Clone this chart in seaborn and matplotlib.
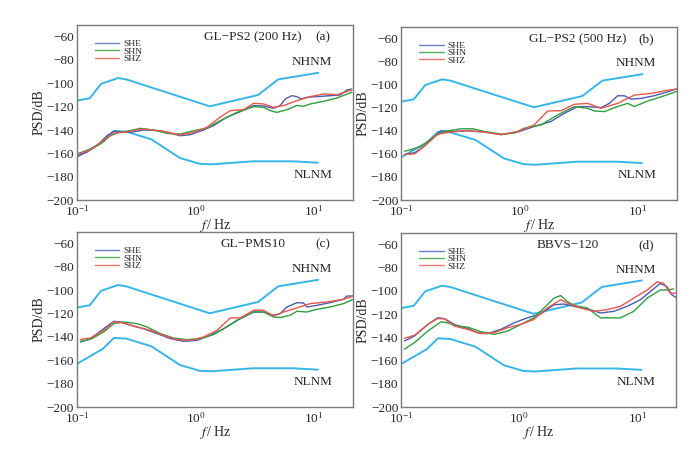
"""
plot.py

PSD curves of the three channels (SHE, SHN, SHZ) for four sensors,
drawn against the Peterson noise models (NHNM / NLNM).
"""

import numpy as np
import pandas as pd
import matplotlib
matplotlib.use("Agg")
import matplotlib.pyplot as plt
import seaborn as sns

# Peterson noise models
nhnm_f = [0.1, 0.128, 0.16, 0.222, 0.26, 1.32, 3.38, 5.0, 10.9]
nhnm_db = [-114.8, -112.8, -100.4, -95.5, -96.6, -119.7, -110.0, -96.6, -91.0]
nlnm_f = [0.1, 0.166, 0.205, 0.261, 0.425, 0.74, 1.09, 1.37, 3.07, 6.6, 10.8]
nlnm_db = [-163.0, -150.0, -140.8, -141.4, -148.0, -164.0, -169.0, -169.4, -166.8, -166.8, -168.0]

# (a) GL-PS2 (200 Hz)
a_she_f = [0.103, 0.121, 0.148, 0.179, 0.204, 0.232, 0.282, 0.365, 0.505, 0.745, 0.904,
           1.17, 1.42, 1.84, 2.39, 3.10, 3.76, 4.57, 5.20, 5.73, 6.52, 7.19, 7.8, 8.7,
           10.6, 12.1, 13.7, 16.7, 19.0, 20.9]
a_she = [-162.0, -159.0, -153.4, -144.9, -141.1, -141.4, -142.0, -140.0, -140.6, -144.9, -144.0,
         -140.0, -136.3, -129.0, -124.3, -119.1, -119.4, -121.4, -119.0, -113.4, -110.6, -111.4, -113.4, -112.0,
         -111.4, -111.0, -110.6, -110.0, -105.7, -104.9]
a_shn_f = [0.103, 0.130, 0.157, 0.191, 0.225, 0.264, 0.342, 0.444, 0.575, 0.745, 0.965,
           1.25, 1.62, 2.24, 3.10, 3.76, 4.28, 4.87, 5.92, 7.19, 8.18, 9.31, 12.1, 15.6, 20.9]
a_shn = [-160.0, -156.3, -152.0, -145.0, -142.0, -141.1, -138.6, -140.0, -142.9, -143.4, -140.6,
         -138.3, -132.0, -124.9, -120.0, -120.6, -123.4, -124.9, -122.6, -119.0, -119.7, -117.7, -115.4, -112.6, -107.7]
a_shz_f = [0.103, 0.130, 0.168, 0.204, 0.248, 0.365, 0.539, 0.745, 0.965, 1.25, 1.62,
           1.97, 2.55, 3.10, 3.76, 4.57, 5.55, 7.19, 9.31, 12.1, 15.6, 20.9]
a_shz = [-160.6, -157.0, -148.6, -142.6, -142.0, -139.1, -141.1, -144.3, -142.0, -137.7, -129.0,
         -123.4, -122.6, -117.1, -117.7, -120.6, -119.0, -114.9, -111.4, -109.1, -109.7, -105.7]

# (b) GL-PS2 (500 Hz)
b_she_f = [0.107, 0.130, 0.157, 0.191, 0.218, 0.264, 0.365, 0.505, 0.698, 0.965, 1.33,
           1.84, 2.39, 3.10, 3.76, 4.87, 5.73, 6.73, 7.67, 8.73, 10.6, 13.7, 17.8, 21.6]
b_she = [-160.6, -159.0, -153.4, -144.9, -140.0, -140.6, -140.0, -141.1, -143.4, -141.1, -136.3,
         -132.0, -124.9, -119.1, -119.1, -120.0, -116.3, -109.7, -109.7, -112.6, -112.0, -109.7, -106.3, -103.4]
b_shn_f = [0.107, 0.121, 0.148, 0.191, 0.232, 0.321, 0.403, 0.505, 0.698, 0.904, 1.10,
           1.52, 2.10, 2.90, 3.76, 4.28, 5.20, 6.73, 8.18, 9.31, 12.1, 16.7, 21.6]
b_shn = [-157.7, -156.3, -153.4, -144.9, -140.6, -138.3, -138.3, -140.6, -142.9, -142.0, -137.7,
         -134.9, -126.3, -119.1, -120.6, -122.9, -123.4, -119.0, -116.3, -119.0, -114.3, -109.7, -105.7]
b_shz_f = [0.107, 0.130, 0.157, 0.204, 0.264, 0.365, 0.505, 0.698, 0.965, 1.33, 1.73,
           2.24, 2.90, 3.76, 4.87, 6.73, 9.31, 12.9, 17.8, 21.6]
b_shz = [-160.6, -160.0, -153.4, -142.9, -141.1, -140.0, -141.1, -143.4, -140.6, -134.9, -122.9,
         -122.6, -117.1, -116.3, -120.6, -116.3, -109.1, -107.7, -104.9, -104.0]

# (c) GL-PMS10
c_she_f = [0.107, 0.130, 0.168, 0.204, 0.232, 0.282, 0.365, 0.473, 0.613, 0.794, 1.03,
           1.33, 1.73, 2.24, 3.10, 3.76, 4.57, 5.20, 5.92, 7.19, 8.18, 8.73, 10.6, 13.7,
           17.8, 19.0, 21.6]
c_she = [-144.3, -141.4, -132.9, -126.6, -127.1, -130.0, -132.9, -137.1, -141.4, -143.7, -142.9,
         -138.6, -132.9, -125.7, -118.6, -118.6, -121.4, -120.0, -114.3, -110.6, -110.9, -114.3, -112.9, -110.6,
         -107.7, -104.9, -104.9]
c_shn_f = [0.107, 0.130, 0.168, 0.204, 0.248, 0.321, 0.390, 0.505, 0.654, 0.847, 1.10,
           1.42, 1.84, 2.39, 3.10, 3.76, 4.57, 5.20, 6.31, 7.19, 8.73, 10.6, 13.7, 17.8, 21.6]
c_shn = [-143.7, -142.0, -135.7, -128.6, -127.1, -128.6, -131.4, -137.1, -140.9, -142.3, -141.4,
         -138.0, -131.4, -124.3, -118.6, -118.6, -122.9, -123.4, -121.4, -118.0, -118.6, -116.3, -114.3, -111.4, -107.7]
c_shz_f = [0.107, 0.130, 0.168, 0.204, 0.248, 0.321, 0.416, 0.539, 0.698, 0.904, 1.17,
           1.52, 1.97, 2.39, 3.10, 3.76, 4.57, 5.55, 7.19, 9.31, 12.9, 17.8, 21.6]
c_shz = [-142.0, -140.9, -134.3, -127.1, -128.0, -131.4, -134.3, -138.6, -142.3, -142.9, -140.0,
         -134.3, -123.7, -123.7, -117.1, -117.1, -122.0, -118.6, -115.1, -111.4, -110.0, -107.7, -104.9]

# (d) BBVS-120
d_she_f = [0.107, 0.130, 0.168, 0.204, 0.232, 0.282, 0.365, 0.444, 0.539, 0.698, 0.904,
           1.17, 1.52, 1.97, 2.39, 2.90, 3.76, 4.87, 6.31, 8.18, 10.6, 13.7, 15.6, 17.8, 19.6, 21.6]
d_she = [-143.1, -138.8, -128.9, -123.2, -123.8, -128.9, -132.3, -136.0, -136.8, -133.1, -127.5,
         -123.2, -119.8, -111.9, -111.3, -113.3, -115.3, -119.0, -117.6, -113.3, -107.6, -98.3, -93.5, -96.3, -103.4, -106.2]
d_shn_f = [0.107, 0.130, 0.168, 0.218, 0.248, 0.301, 0.365, 0.473, 0.613, 0.794, 1.03,
           1.33, 1.62, 1.97, 2.24, 2.55, 2.90, 3.76, 4.87, 6.31, 7.19, 9.31, 12.1, 15.6, 17.8, 20.3]
d_shn = [-150.1, -144.5, -134.6, -126.6, -127.5, -130.3, -131.2, -135.1, -137.4, -134.6, -128.9,
         -123.2, -114.7, -106.2, -104.0, -109.1, -112.5, -114.7, -123.2, -123.2, -123.2, -117.6, -106.2, -99.2, -99.2, -98.3]
d_shz_f = [0.107, 0.130, 0.168, 0.204, 0.232, 0.282, 0.365, 0.473, 0.613, 0.794, 1.03,
           1.33, 1.73, 2.24, 2.55, 3.30, 4.28, 5.55, 7.19, 9.31, 12.1, 14.7, 16.7, 19.0, 21.6]
d_shz = [-140.8, -138.2, -128.9, -123.8, -124.1, -130.3, -133.1, -136.8, -136.0, -131.7, -128.9,
         -124.6, -114.7, -107.6, -110.5, -114.7, -117.6, -116.1, -113.3, -106.2, -99.2, -92.1, -93.5, -102.0, -102.0]

panel_titles = ["GL\u2212PS2 (200 Hz)", "GL\u2212PS2 (500 Hz)", "GL\u2212PMS10", "BBVS\u2212120"]
panel_tags = ["(a)", "(b)", "(c)", "(d)"]
title_x = [0.638, 0.641, 0.638, 0.607]
channels = ["SHE", "SHN", "SHZ"]
channel_colors = {"SHE": "#4b5cb0", "SHN": "#2f9e3f", "SHZ": "#e8574b"}
model_color = "#37b6e6"

panels = [
    [(a_she_f, a_she), (a_shn_f, a_shn), (a_shz_f, a_shz)],
    [(b_she_f, b_she), (b_shn_f, b_shn), (b_shz_f, b_shz)],
    [(c_she_f, c_she), (c_shn_f, c_shn), (c_shz_f, c_shz)],
    [(d_she_f, d_she), (d_shn_f, d_shn), (d_shz_f, d_shz)],
]

# axes boxes in figure fractions (left, bottom, width, height)
boxes = [
    (0.110, 0.567, 0.394, 0.379),
    (0.573, 0.567, 0.394, 0.375),
    (0.110, 0.119, 0.394, 0.379),
    (0.573, 0.119, 0.393, 0.377),
]

sns.set_theme(style="white")
plt.rcParams["font.family"] = ["Liberation Serif", "DejaVu Serif"]
plt.rcParams["mathtext.fontset"] = "stix"
plt.rcParams["axes.unicode_minus"] = True

fig = plt.figure(figsize=(7.0, 4.62), dpi=100)

for i, curves in enumerate(panels):
    ax = fig.add_axes(boxes[i])

    # noise models
    sns.lineplot(x=nhnm_f, y=nhnm_db, ax=ax, color=model_color, linewidth=1.4, sort=False)
    sns.lineplot(x=nlnm_f, y=nlnm_db, ax=ax, color=model_color, linewidth=1.4, sort=False)

    # channel PSDs
    frames = []
    for name, (f, v) in zip(channels, curves):
        frames.append(pd.DataFrame({"f": f, "psd": v, "channel": name}))
    df = pd.concat(frames, ignore_index=True)
    sns.lineplot(data=df, x="f", y="psd", hue="channel", palette=channel_colors,
                 ax=ax, linewidth=1.0, sort=False, estimator=None)

    ax.set_xscale("log")
    ax.set_xlim(0.1, 21.3)
    ax.set_ylim(-200, -50)
    ax.set_yticks(np.arange(-200, -59, 20))
    ax.minorticks_off()
    ax.tick_params(direction="in", length=2.5, width=0.6, color="#555555",
                   labelsize=9.5)
    ax.tick_params(axis="x", pad=3)
    ax.tick_params(axis="y", pad=2)
    for s in ax.spines.values():
        s.set_color("#7a7a7a")
        s.set_linewidth(1.0)

    ax.set_xlabel(r"$f\,$/ Hz", fontsize=10, labelpad=-1.5)
    ax.set_ylabel("PSD/dB", fontsize=10, labelpad=1)

    ax.text(title_x[i], 0.93, panel_titles[i], transform=ax.transAxes,
            ha="center", va="center", fontsize=9.5)
    ax.text(0.89, 0.93, panel_tags[i], transform=ax.transAxes,
            ha="center", va="center", fontsize=9.5)
    ax.text(0.852, 0.789, "NHNM", transform=ax.transAxes,
            ha="center", va="center", fontsize=9.5)
    ax.text(0.855, 0.143, "NLNM", transform=ax.transAxes,
            ha="center", va="center", fontsize=9.5)

    leg = ax.legend(loc="upper left", bbox_to_anchor=(0.065, 0.915), frameon=False,
                    fontsize=6.8, handlelength=2.6, handletextpad=0.4,
                    labelspacing=-0.15, borderaxespad=0, borderpad=0)
    for h in leg.get_lines():
        h.set_linewidth(1.0)
        h.set_alpha(0.8)

fig.savefig("out.png", dpi=100)
